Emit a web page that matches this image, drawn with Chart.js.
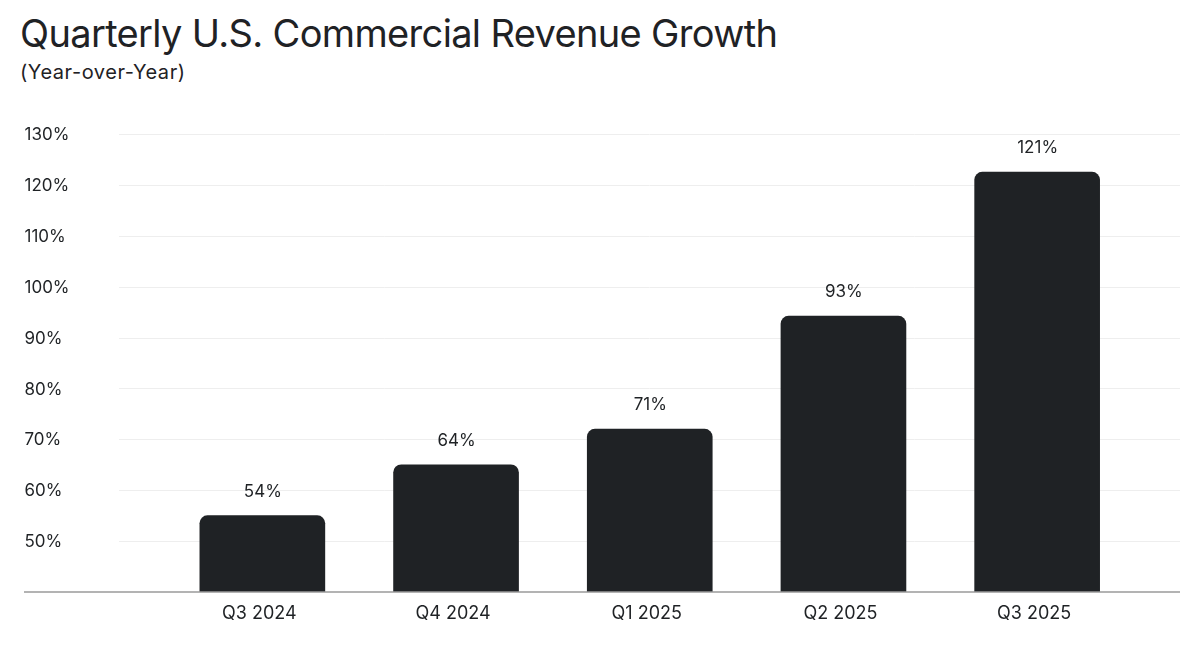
<!DOCTYPE html>
<html>
<head>
<meta charset="utf-8">
<title>Quarterly U.S. Commercial Revenue Growth</title>
<script src="https://cdn.jsdelivr.net/npm/chart.js@4/dist/chart.umd.min.js"></script>
<style>
  html, body { margin: 0; padding: 0; background: #fff; }
  #wrap { position: relative; width: 1200px; height: 662px; overflow: hidden; font-family: Inter, sans-serif; color: #1f2225; }
  h1 { position: absolute; left: 20px; top: 10px; margin: 0; font-size: 38px; line-height: 46px; font-weight: 400; letter-spacing: -0.65px; white-space: nowrap; }
  h2 { position: absolute; left: 20px; top: 59px; margin: 0; font-size: 20px; line-height: 26px; font-weight: 400; letter-spacing: 0.55px; white-space: nowrap; }
  canvas { position: absolute; left: 0; top: 0; }
</style>
</head>
<body>
<div id="wrap">
  <h1>Quarterly U.S. Commercial Revenue Growth</h1>
  <h2>(Year-over-Year)</h2>
  <canvas id="grafico" width="1200" height="662"></canvas>
</div>
<script>
const categorias = ['Q3 2024', 'Q4 2024', 'Q1 2025', 'Q2 2025', 'Q3 2025'];
// bar heights as drawn in the picture, they sit a little above the printed numbers
const alturas = [55, 65, 72, 94.2, 122.5];
const rotulos = ['54%', '64%', '71%', '93%', '121%'];
const eixoMin = 40;
const eixoMax = 130;
const eixoPasso = 10;

const corTexto = '#1f2225';
const fonte = { family: 'Inter, sans-serif', size: 17 };
const fonteX = { family: 'Inter, sans-serif', size: 18 };

// grid lines run wider than the bar area, so they are drawn here from the y scale
const linhasPlugin = {
  id: 'linhas',
  beforeDatasetsDraw(chart) {
    const { ctx, scales: { y } } = chart;
    ctx.save();
    ctx.lineWidth = 1;
    ctx.strokeStyle = '#eeeeee';
    y.ticks.forEach(t => {
      if (t.value === eixoMin) return;
      const py = Math.round(y.getPixelForValue(t.value)) + 0.5;
      ctx.beginPath();
      ctx.moveTo(119, py);
      ctx.lineTo(1180, py);
      ctx.stroke();
    });
    ctx.restore();
  },
  afterDatasetsDraw(chart) {
    const { ctx, scales: { y } } = chart;
    const py = y.getPixelForValue(eixoMin);
    ctx.save();
    ctx.lineWidth = 1.5;
    ctx.strokeStyle = '#9a9a9a';
    ctx.beginPath();
    ctx.moveTo(24, py);
    ctx.lineTo(1180, py);
    ctx.stroke();
    ctx.restore();
  }
};

const rotulosPlugin = {
  id: 'rotulos',
  afterDatasetsDraw(chart) {
    const { ctx } = chart;
    ctx.save();
    ctx.fillStyle = corTexto;
    ctx.font = `${fonte.size}px ${fonte.family}`;
    ctx.textAlign = 'center';
    ctx.textBaseline = 'middle';
    chart.getDatasetMeta(0).data.forEach((barra, i) => {
      ctx.fillText(rotulos[i], barra.x + 0.5, barra.y - 24);
    });
    ctx.restore();
  }
};

new Chart(document.getElementById('grafico'), {
  type: 'bar',
  data: {
    labels: categorias,
    datasets: [{
      data: alturas,
      backgroundColor: corTexto,
      borderRadius: { topLeft: 8, topRight: 8 },
      borderSkipped: false,
      barThickness: 125
    }]
  },
  plugins: [linhasPlugin, rotulosPlugin],
  options: {
    responsive: false,
    animation: false,
    layout: { padding: { left: 24.5, right: 66, top: 134, bottom: 0 } },
    plugins: { legend: { display: false }, tooltip: { enabled: false } },
    scales: {
      x: {
        grid: { display: false, drawTicks: false },
        border: { display: false },
        ticks: { color: corTexto, font: fonteX, padding: 11, maxRotation: 0, labelOffset: -3 },
        afterFit(scale) { scale.height = 70; }
      },
      y: {
        min: eixoMin,
        max: eixoMax,
        grid: { display: false, drawTicks: false },
        border: { display: false },
        ticks: {
          stepSize: eixoPasso,
          color: corTexto,
          font: fonte,
          padding: 0,
          crossAlign: 'far',
          labelOffset: 1,
          callback: v => v === eixoMin ? '' : v + '%'
        },
        afterFit(scale) { scale.width = 141; }
      }
    }
  }
});
</script>
</body>
</html>
